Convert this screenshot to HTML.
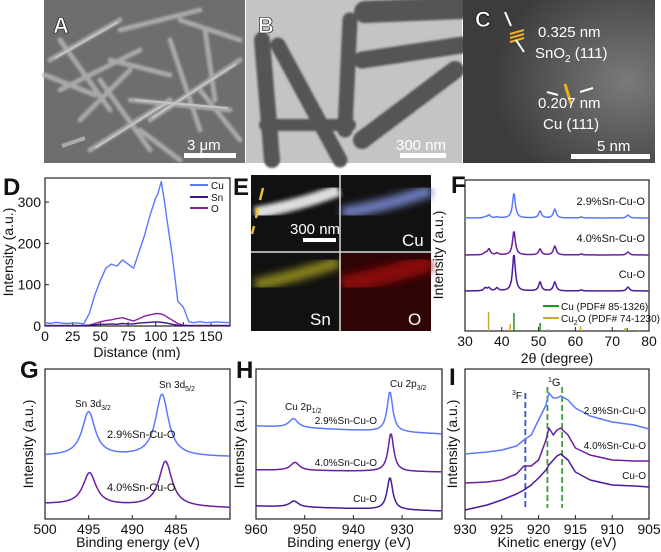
<!DOCTYPE html>
<html><head><meta charset="utf-8"><style>
body{margin:0;background:#fff}
svg{display:block;font-family:"Liberation Sans",Arial,sans-serif}
</style></head><body>
<svg id="fig" width="661" height="552" viewBox="0 0 661 552" xmlns="http://www.w3.org/2000/svg">
<defs>
<filter id="blur1"><feGaussianBlur stdDeviation="1"/></filter>
<filter id="blur2"><feGaussianBlur stdDeviation="2"/></filter>
<filter id="blur4"><feGaussianBlur stdDeviation="4"/></filter>
<radialGradient id="cg" cx="0.85" cy="0.5" r="0.7"><stop offset="0" stop-color="#7a7a7a"/><stop offset="1" stop-color="#3c3c3c"/></radialGradient>
</defs>
<!-- Panel A SEM -->
<g>
<rect x="44" y="0" width="201" height="163" fill="#6e6e6e"/>
<g stroke="#a8a8a8" stroke-linecap="round" filter="url(#blur1)" fill="none" stroke-width="5">
<path d="M50 60 L120 20 M60 90 L140 50 M90 150 L170 100 M120 30 L200 10 M150 120 L240 60 M100 80 L150 150 M170 40 L200 130 M60 40 L110 110 M200 90 L240 140 M130 100 L230 110 M80 120 L130 70 M180 20 L240 40 M45 75 L95 95 M110 60 L170 75 M205 30 L215 100 M140 130 L180 160"/>
</g>
<g stroke="#c4c4c4" stroke-width="2" fill="none"><path d="M55 58 L118 22 M95 148 L168 102 M152 118 L236 64 M135 100 L228 108"/></g>
<path d="M62 146 L85 138" stroke="#aaa" stroke-width="4"/>
</g>
<!-- Panel B TEM -->
<g>
<rect x="246" y="0" width="216" height="163" fill="#c4c4c4"/>
<g stroke="#555" stroke-linecap="round" fill="none" filter="url(#blur1)">
<path d="M262 40 L272 160" stroke-width="16"/>
<path d="M278 45 L340 160" stroke-width="15"/>
<path d="M350 20 L345 130" stroke-width="15"/>
<path d="M365 12 L462 8" stroke-width="22"/>
<path d="M362 60 L462 45" stroke-width="17"/>
<path d="M362 140 L455 70" stroke-width="18"/>
<path d="M265 125 L350 125" stroke-width="12"/>
</g>
</g>
<!-- Panel C HRTEM -->
<g>
<rect x="463" y="0" width="192" height="163" fill="url(#cg)"/>
<path d="M510 34 L524 30 M510 38 L524 34 M510 42 L524 38" stroke="#f0b020" stroke-width="2"/>
<path d="M565 84 L571 104" stroke="#f0b020" stroke-width="3"/>
<path d="M505 12 L511 26 M524 52 L516 40 M547 92 L558 95 M593 88 L580 92" stroke="#fff" stroke-width="2"/>
</g>
<g font-weight="bold" font-size="22" fill="#fff" stroke="#000" stroke-width="0.6">
<text x="53" y="33">A</text>
<text x="258" y="33">B</text>
<text x="475" y="27">C</text>
</g>
<g fill="#fff" font-size="15">
<text x="187" y="150">3 μm</text>
<rect x="184" y="153" width="52" height="5"/>
<text x="396" y="150">300 nm</text>
<rect x="400" y="153" width="46" height="5"/>
<text x="597" y="151">5 nm</text>
<rect x="571" y="154" width="79" height="5"/>
<text x="538" y="37">0.325 nm</text>
<text x="535" y="58">SnO<tspan font-size="10" dy="4">2</tspan><tspan dy="-4"> (111)</tspan></text>
<text x="538" y="108">0.207 nm</text>
<text x="543" y="129">Cu (111)</text>
</g>
<!-- Panel E maps -->
<g>
<rect x="251" y="175" width="180" height="156" fill="#111"/>
<path d="M255 213 Q300 205 339 190" stroke="#ddd" stroke-width="12" filter="url(#blur2)" fill="none"/>
<path d="M342 213 Q390 205 431 190" stroke="#6f7fc0" stroke-width="12" filter="url(#blur4)" fill="none"/>
<path d="M255 285 Q300 275 339 262" stroke="#a8a020" stroke-width="12" filter="url(#blur4)" fill="none" opacity="0.8"/>
<rect x="341" y="253" width="90" height="78" fill="#300505"/>
<path d="M342 285 Q390 275 431 262" stroke="#a01010" stroke-width="18" filter="url(#blur4)" fill="none" opacity="0.8"/>
<path d="M340 175 V331 M251 252 H431" stroke="#ddd" stroke-width="1.5"/>
<path d="M263 188 L260 200 M258 208 L256 218 M254 226 L252 234" stroke="#e8c030" stroke-width="2.5"/>
<text x="290" y="234" font-size="15" fill="#fff">300 nm</text>
<rect x="303" y="238" width="33" height="4" fill="#fff"/>
<text x="402" y="246" font-size="17" fill="#fff">Cu</text>
<text x="310" y="325" font-size="17" fill="#fff">Sn</text>
<text x="408" y="325" font-size="17" fill="#fff">O</text>
</g>
<g id="charts"></g>
</svg>
<script>
// ---- Panel D data ----
const dDist = [0,5,10,15,20,25,30,35,40,45,50,55,60,65,70,75,80,85,90,95,100,102,105,108,110,115,120,125,130,135,140,145,150,155,160,167];
const dCu = [8,6,9,7,6,7,7,5,30,75,110,140,150,145,160,150,140,180,220,270,310,320,350,300,260,170,60,45,10,8,11,8,9,10,9,8];
const dSn = [1,1,1,1,1,1,1,1,2,3,4,4,5,4,6,5,5,7,8,9,10,10,9,8,7,4,2,1,1,1,1,1,1,1,1,1];
const dO  = [1,1,1,1,1,1,1,1,2,6,10,13,15,18,20,16,12,18,24,27,30,30,29,26,22,14,6,2,1,1,1,1,1,1,1,1];
const dXTicks = [0,25,50,75,100,125,150];
const dYTicks = [0,100,200,300];
// ---- Panel F data ----
const fSamples = ["2.9%Sn-Cu-O","4.0%Sn-Cu-O","Cu-O"];
const fBase = [218,255,291];
const fPeakPos = [35.5,36.5,38.7,43.3,50.4,54.4,61.6,74.3];
const fPeakH = [[1,3,1,25,7,9,1,3],[2,6,2,24,6,9,1,3],[3,3,3,37,9,9,1,4]];
const fCuRef = [43.3,50.4,74.1];
const fCuRefH = [18,8,3];
const fCu2ORef = [36.4,42.3,52.5,61.4,73.5,77.3];
const fCu2ORefH = [19,7,2,5,3,1];
const fXTicks = [30,40,50,60,70,80];
// ---- Panel G data ----
const gSamples = ["2.9%Sn-Cu-O","4.0%Sn-Cu-O"];
const gBase = [[456,457],[504,508]];
const gPeakPos = [[495.0,486.6],[494.9,486.2]];
const gPeakH = [[44,62],[32,45]];
const gXTicks = [500,495,490,485];
// ---- Panel H data ----
const hSamples = ["2.9%Sn-Cu-O","4.0%Sn-Cu-O","Cu-O"];
const hBase = [[426,434],[470,472],[506,511]];
const hPeakPos = [[952.3,932.5],[952.0,932.3],[952.2,932.5]];
const hPeakH = [[9,40],[8,38],[6,32]];
const hXTicks = [960,950,940,930];
// ---- Panel I data ----
const iKE = [930,927,925,923,922,921,920,919,918.6,918,917.5,917,916,915,913,910,907,905];
const iS29 = [454,452,450,446,440,435,420,405,393,398,398,396,400,408,416,422,425,429];
const iS40 = [483,482,480,474,466,466,460,440,428,435,430,428,435,448,455,460,461,461];
const iCuO = [510,505,500,494,490,485,478,470,465,460,456,454,460,472,480,485,486,487];
const iDashF = [921.8];
const iDashG = [918.8,916.8];
const iXTicks = [930,925,920,915,910,905];

const NS="http://www.w3.org/2000/svg";
const root=document.getElementById('charts');
function el(tag,parent){const e=document.createElementNS(NS,tag);(parent||root).appendChild(e);return e;}
function setA(e,o){for(const k in o)e.setAttribute(k,o[k]);return e;}
function txt(x,y,s,size,anchor,parent){const t=el('text',parent);setA(t,{x:x,y:y,'font-size':size,'text-anchor':anchor||'start',fill:'#111'});t.textContent=s;return t;}
function frame(x0,y0,x1,y1,name){const r=el('rect');setA(r,{x:x0,y:y0,width:x1-x0,height:y1-y0,fill:'none',stroke:'#222','stroke-width':1.2});


return r;}
function xTicks(vals,sx,y1,y0,name){vals.forEach(v=>{const l=el('line');setA(l,{x1:sx(v),x2:sx(v),y1:y1,y2:y1-4,stroke:'#222'});
const t=txt(sx(v),y1+15,String(v),14,'middle');

});}
function yLabel(x,y,s){const t=txt(0,0,s,14,'middle');t.setAttribute('transform','translate('+x+','+y+') rotate(-90)');

return t;}
function panelLetter(x,y,s){const t=txt(x,y,s,24,'start');t.setAttribute('font-weight','bold');

}
function line(pts,color,w,name){const p=el('path');setA(p,{d:'M'+pts.map(q=>q[0].toFixed(1)+' '+q[1].toFixed(1)).join(' L'),fill:'none',stroke:color,'stroke-width':w||1.4,'stroke-linejoin':'round'});

return p;}
function lor(x,c,w){return 1/(1+((x-c)/w)*((x-c)/w));}

// ---------- D ----------
panelLetter(3,195,'D');
const dx=v=>45+v*1.107, dy=v=>326-v*0.413;
frame(45,178,230,326,'plot-frame-d');
xTicks(dXTicks,dx,326,178,'x-axis-d');
dYTicks.forEach(v=>{const l=el('line');setA(l,{x1:45,x2:49,y1:dy(v),y2:dy(v),stroke:'#222'});
const t=txt(41,dy(v)+5,String(v),14,'end');

});
const dxl=txt(137,357,'Distance (nm)',14,'middle');


yLabel(13,252,'Intensity (a.u.)');
line(dDist.map((d,i)=>[dx(d),dy(dO[i])]),'#8b1fa0',1.4,'line-o');
line(dDist.map((d,i)=>[dx(d),dy(dSn[i])]),'#3d1486',1.4,'line-sn');
line(dDist.map((d,i)=>[dx(d),dy(dCu[i])]),'#5b78ff',1.4,'line-cu');
[['Cu','#5b78ff',185],['Sn','#3d1486',197],['O','#8b1fa0',208]].forEach(e=>{
const l=el('line');setA(l,{x1:190,x2:208,y1:e[2],y2:e[2],stroke:e[1],'stroke-width':2});


const t=txt(211,e[2]+4,e[0],10);

});
panelLetter(233,195,'E');

// ---------- F ----------
panelLetter(451,193,'F');
const fx=v=>465+(v-30)*3.68;
frame(465,180,649,331,'plot-frame-f');
xTicks(fXTicks,fx,331,180,'x-axis-f');
const fxl=txt(557,363,'2θ (degree)',14,'middle');


yLabel(443,255,'Intensity (a.u.)');
const fCols=['#5b78ff','#6a1fa0','#4a1a9a'];
fSamples.forEach((s,k)=>{const pts=[];for(let t=30;t<=80;t+=0.2){let y=fBase[k];fPeakPos.forEach((c,j)=>{y-=fPeakH[k][j]*lor(t,c,0.45);});pts.push([fx(t),y]);}
line(pts,fCols[k],1.5,'xrd-'+s);
const lt=txt(645,fBase[k]-13,s,11,'end');

});
fCuRef.forEach((v,i)=>{const l=el('line');setA(l,{x1:fx(v),x2:fx(v),y1:331,y2:331-fCuRefH[i],stroke:'#1a9a1a','stroke-width':1.5});

});
fCu2ORef.forEach((v,i)=>{const l=el('line');setA(l,{x1:fx(v),x2:fx(v),y1:331,y2:331-fCu2ORefH[i],stroke:'#c8a830','stroke-width':1.5});

});
const lg1=el('line');setA(lg1,{x1:543,x2:559,y1:306,y2:306,stroke:'#1a9a1a','stroke-width':2});


const lgt1=txt(561,310,'Cu (PDF# 85-1326)',10);


const lg2=el('line');setA(lg2,{x1:543,x2:559,y1:318,y2:318,stroke:'#c8a830','stroke-width':2});


const lgt2=txt(561,322,'Cu',10);


lgt2.innerHTML='Cu<tspan font-size="7" dy="3">2</tspan><tspan dy="-3">O (PDF# 74-1230)</tspan>';

// ---------- G ----------
panelLetter(20,378,'G');
const gx=v=>45+(500-v)*8.73;
frame(45,369,230,519,'plot-frame-g');
xTicks(gXTicks,gx,519,369,'x-axis-g');
const gxl=txt(138,547,'Binding energy (eV)',14,'middle');


yLabel(33,444,'Intensity (a.u.)');
const gCols=['#5b78ff','#6a1fa0'];
gSamples.forEach((s,k)=>{const pts=[];for(let e=500;e>=478.8;e-=0.1){const f=(500-e)/21.2;let y=gBase[k][0]+(gBase[k][1]-gBase[k][0])*f;gPeakPos[k].forEach((c,j)=>{y-=gPeakH[k][j]*lor(e,c,0.9);});pts.push([gx(e),y]);}
line(pts,gCols[k],1.5,'xps-sn-'+s);});
[['Sn 3d','3/2',75,407],['Sn 3d','5/2',159,388]].forEach(a=>{const t=txt(a[2],a[3],a[0],10);t.innerHTML=a[0]+'<tspan font-size="7" dy="3">'+a[1]+'</tspan>';

});
[['2.9%Sn-Cu-O',438],['4.0%Sn-Cu-O',491]].forEach(a=>{const t=txt(107,a[1],a[0],11);

});

// ---------- H ----------
panelLetter(236,378,'H');
const hx=v=>256+(960-v)*4.87;
frame(256,369,442,519,'plot-frame-h');
xTicks(hXTicks,hx,519,369,'x-axis-h');
const hxl=txt(349,547,'Binding energy (eV)',14,'middle');


yLabel(244,444,'Intensity (a.u.)');
const hCols=['#5b78ff','#6a1fa0','#4a1a9a'];
hSamples.forEach((s,k)=>{const pts=[];for(let e=960;e>=921.8;e-=0.2){const f=(960-e)/38.2;let y=hBase[k][0]+(hBase[k][1]-hBase[k][0])*f;hPeakPos[k].forEach((c,j)=>{y-=hPeakH[k][j]*lor(e,c,j==0?1.1:0.7);});pts.push([hx(e),y]);}
line(pts,hCols[k],1.5,'xps-cu-'+s);});
[['Cu 2p','1/2',285,410],['Cu 2p','3/2',390,387]].forEach(a=>{const t=txt(a[2],a[3],a[0],10);t.innerHTML=a[0]+'<tspan font-size="7" dy="3">'+a[1]+'</tspan>';

});
[['2.9%Sn-Cu-O',377,424],['4.0%Sn-Cu-O',377,466],['Cu-O',377,502]].forEach(a=>{const t=txt(a[1],a[2],a[0],10,'end');

});

// ---------- I ----------
panelLetter(449,385,'I');
const ix=v=>465+(930-v)*7.36;
frame(465,369,649,519,'plot-frame-i');
xTicks(iXTicks,ix,519,369,'x-axis-i');
const ixl=txt(557,547,'Kinetic energy (eV)',14,'middle');


yLabel(457,444,'Intensity (a.u.)');
iDashF.forEach(v=>{const l=el('line');setA(l,{x1:ix(v),x2:ix(v),y1:393,y2:510,stroke:'#3a50c8','stroke-width':1.8,'stroke-dasharray':'6,3'});

});
iDashG.forEach(v=>{const l=el('line');setA(l,{x1:ix(v),x2:ix(v),y1:387,y2:508,stroke:'#3aa030','stroke-width':1.8,'stroke-dasharray':'6,3'});

});
line(iKE.map((e,i)=>[ix(e),iCuO[i]]),'#4a1a9a',1.5,'auger-cu-o');
line(iKE.map((e,i)=>[ix(e),iS40[i]]),'#6a1fa0',1.5,'auger-4.0');
line(iKE.map((e,i)=>[ix(e),iS29[i]]),'#5b78ff',1.5,'auger-2.9');
const tf=txt(512,399,'',10);tf.innerHTML='<tspan font-size="7" dy="-4">3</tspan><tspan dy="4">F</tspan>';


const tg=txt(548,386,'',11);tg.innerHTML='<tspan font-size="7" dy="-4">1</tspan><tspan dy="4">G</tspan>';


[['2.9%Sn-Cu-O',414],['4.0%Sn-Cu-O',449],['Cu-O',479]].forEach(a=>{const t=txt(646,a[1],a[0],10,'end');

});
</script>
</body></html>
